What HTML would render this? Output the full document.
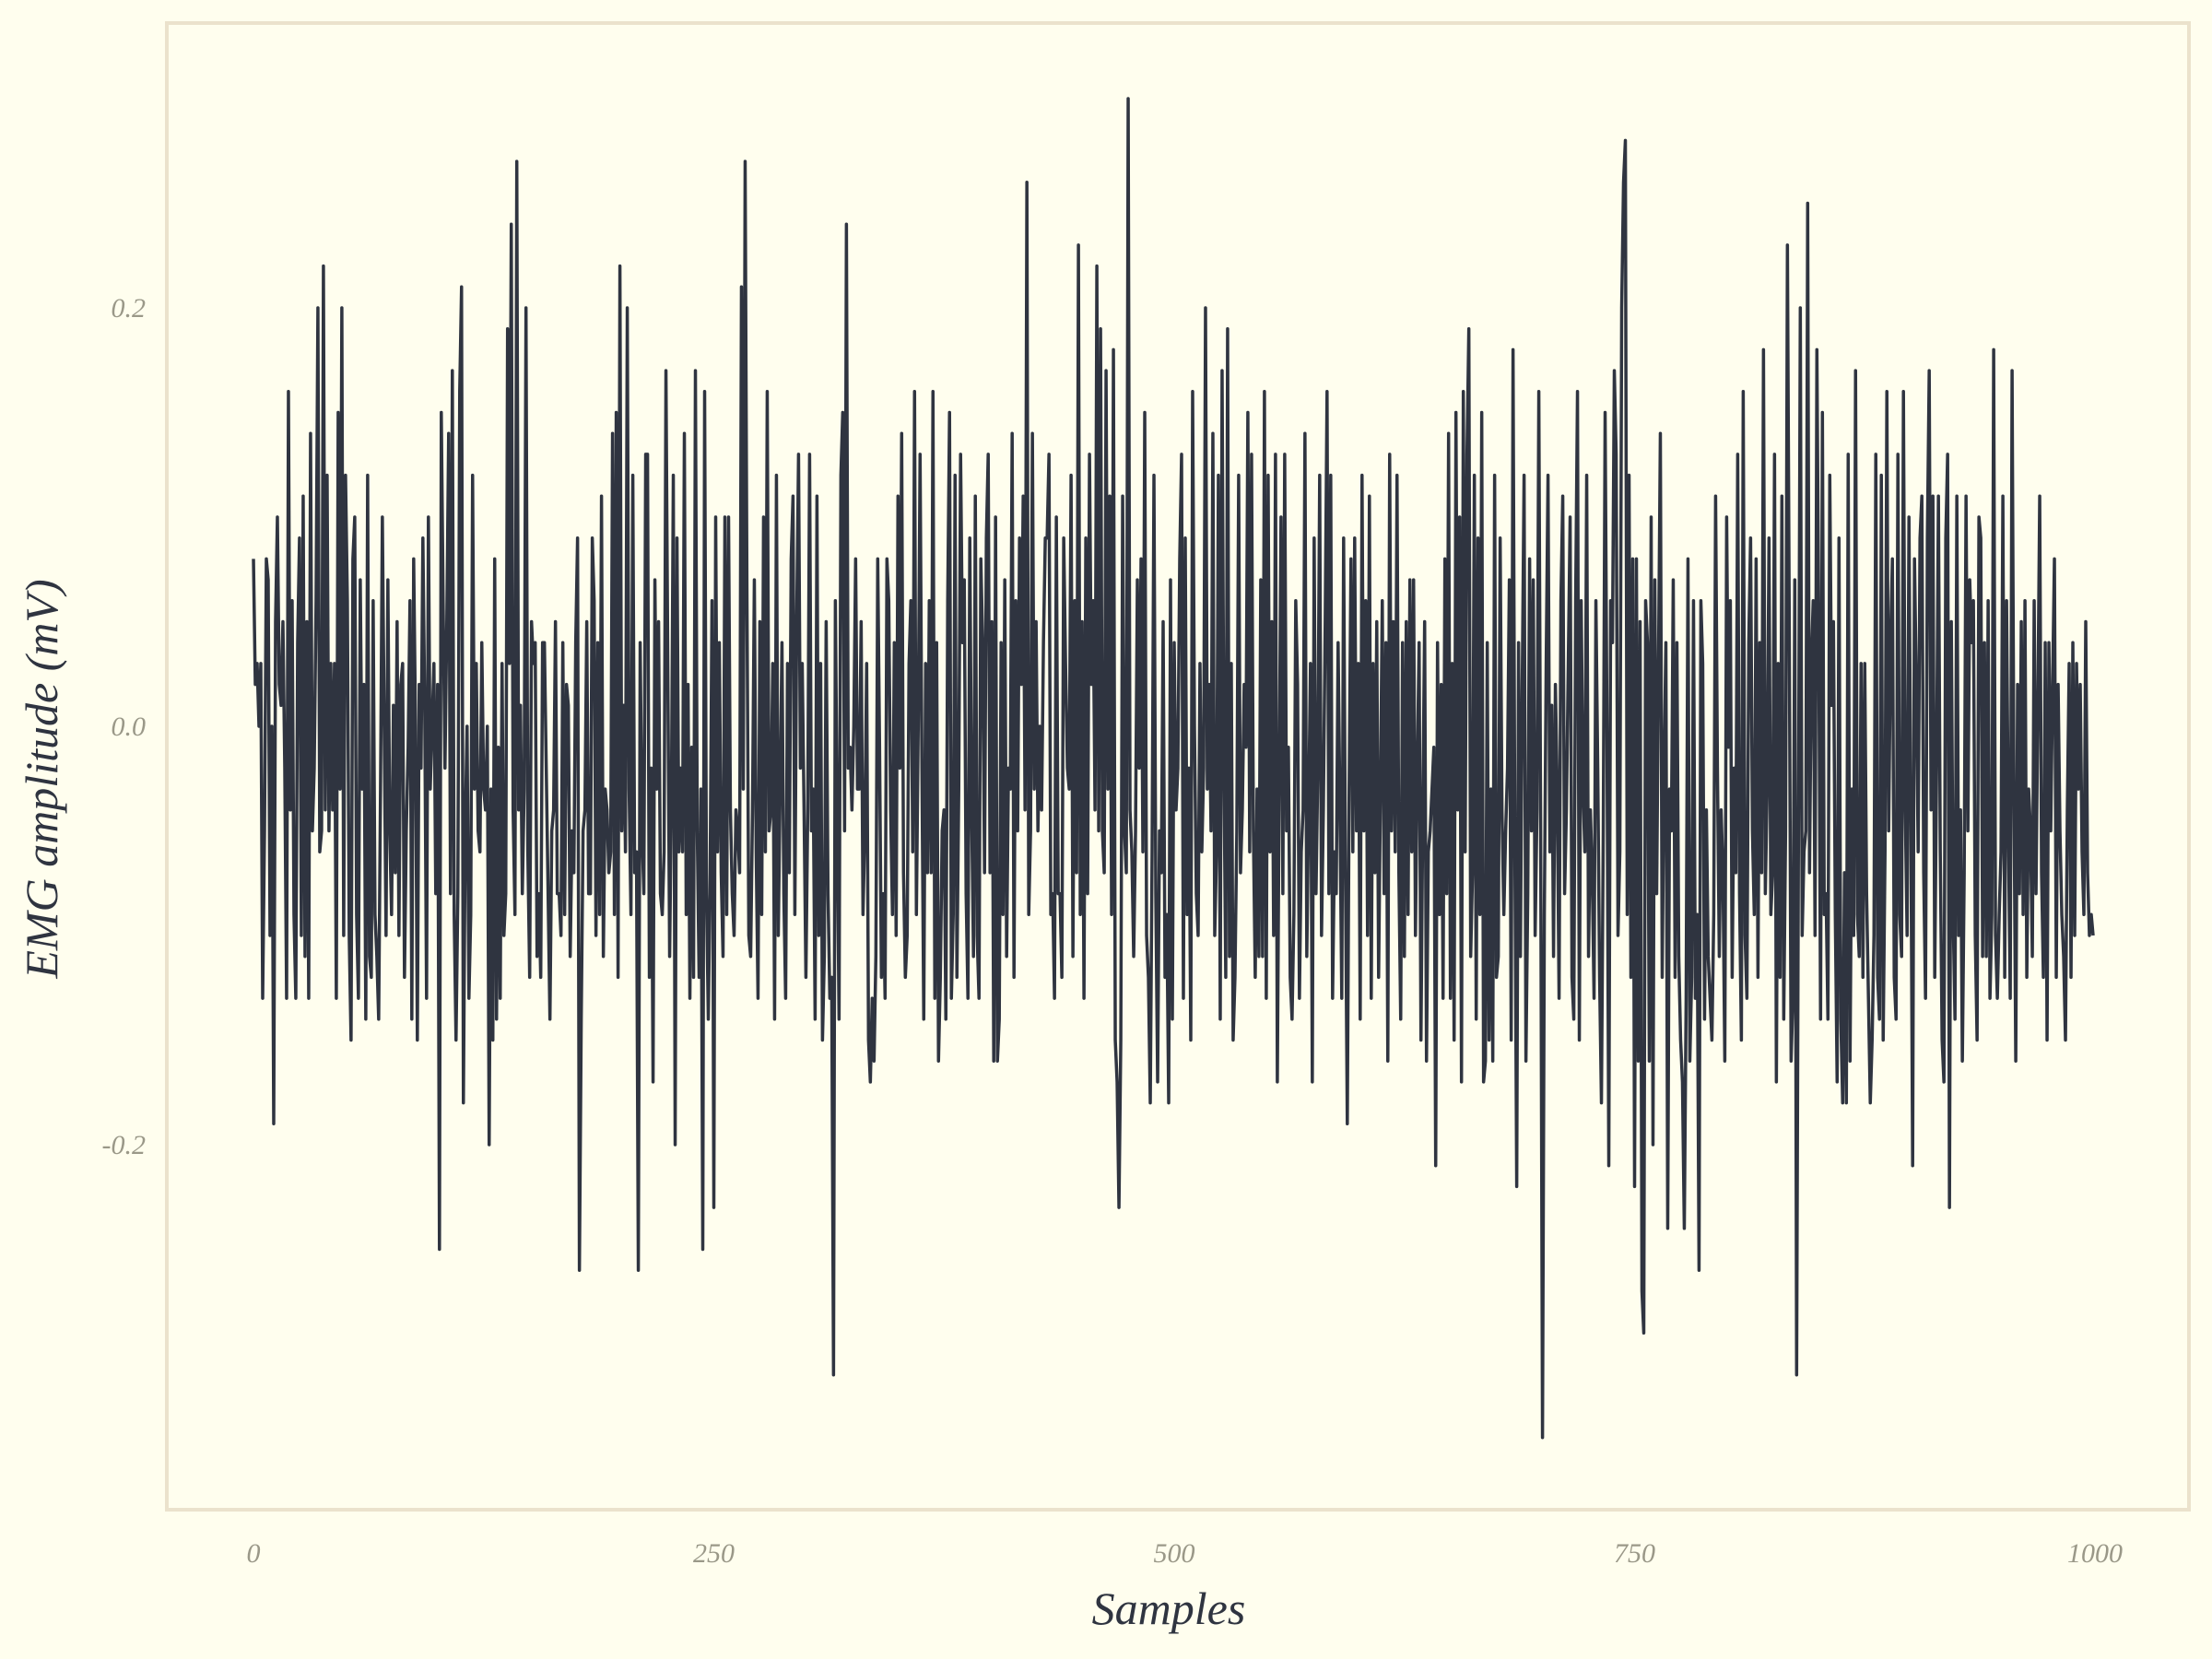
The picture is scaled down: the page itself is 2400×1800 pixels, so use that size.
<!DOCTYPE html>
<html><head><meta charset="utf-8">
<style>
html,body{margin:0;padding:0;background:#fffeee;}
svg{display:block;}
.tick{font-family:"Liberation Serif",serif;font-style:italic;font-size:30px;fill:#9a9888;}
.axlab{font-family:"Liberation Serif",serif;font-style:italic;font-size:50px;fill:#2f3440;}
</style></head>
<body>
<svg id="chart" width="2400" height="1800" viewBox="0 0 2400 1800" xmlns="http://www.w3.org/2000/svg">
<rect x="0" y="0" width="2400" height="1800" fill="#fffeee"/>
<rect x="181" y="25" width="2194" height="1613" fill="#fffeee" stroke="#ebe2cc" stroke-width="4"/>
<g id="xticks"></g>
<g id="yticks"></g>
<path id="line" fill="none" stroke="#2f3440" stroke-width="3.5" stroke-linejoin="round"/>
<text class="axlab" x="1268" y="1762" text-anchor="middle">Samples</text>
<text class="axlab" x="0" y="0" text-anchor="middle" transform="translate(62,845) rotate(-90)">EMG amplitude (mV)</text>
</svg>
<script>
const xTickValues=[0,250,500,750,1000];
const yTickValues=[-0.2,0.0,0.2];
const yTickLabels=["-0.2","0.0","0.2"];
const signalHundredths=[
8,2,3,0,3,-13,-5,8,7,-10,0,-19,5,10,2,1,5,-2,-13,16,-4,6,-9,-13,4,9,-10,11,-11,5,-13,14,-5,-2,6,20,-6,-5,22,-4,12,-5,3,-4,3,-13,15,-3,20,-10,
12,6,-10,-15,8,10,-9,-13,7,-3,2,-14,12,-11,-12,6,-9,-11,-14,-3,10,0,-10,7,-5,-9,1,-7,5,-10,2,3,-12,-5,-1,6,-14,8,0,-15,2,-2,9,1,-13,10,-3,0,3,-8,
2,-25,15,6,-2,5,14,-8,17,-9,-15,-8,16,21,-18,-5,0,-13,-9,12,-3,3,-5,-6,4,-3,-4,0,-20,-3,-15,8,-14,-1,-13,3,-10,-8,19,3,24,-4,-9,27,-4,1,-8,-3,20,-6,
-12,5,3,4,-11,-8,-12,4,4,-2,-8,-14,-5,-4,5,-8,-8,-10,4,-9,2,1,-11,-5,-7,4,9,-26,-14,-5,-4,5,-8,-8,9,6,-10,4,-9,11,-11,-3,-4,-7,-6,14,-9,15,-12,22,
-5,1,-6,20,-3,-9,12,-7,-6,-26,4,-5,-8,13,13,-12,-2,-17,7,-3,5,-8,-9,-6,17,3,-11,-3,12,-20,9,-6,-2,-6,14,-9,2,-13,-1,-12,17,-5,-12,-3,-25,16,-8,-14,-7,6,
-23,10,-6,4,-7,-11,10,-9,10,-4,-8,-10,-4,-5,-7,21,-3,27,6,-10,-11,-4,7,-6,-13,5,-9,10,-6,16,-5,-4,3,-14,12,-10,-3,4,-8,-13,3,-7,8,11,-9,5,13,-2,3,-4,
-12,-4,13,-5,-3,-14,11,-10,3,-15,-11,5,-8,-13,-12,-31,6,-5,-14,12,15,-5,24,-2,-1,-4,0,8,-3,-3,5,-9,-5,3,-15,-17,-13,-16,-11,8,-1,-12,-8,-13,8,6,-4,-9,4,-10,
11,-2,14,-7,-12,-10,3,6,-6,16,-9,0,13,-2,-14,3,-7,6,-7,16,-13,4,-16,-12,-5,-4,-14,6,15,-13,-9,12,-12,-3,13,4,7,-8,-13,9,-4,-11,11,-10,-13,8,4,-7,9,13,
-7,5,-16,10,-16,-14,4,-9,7,-11,-2,-3,14,-12,6,-5,9,2,11,-4,26,-9,-5,14,-3,5,-5,0,-4,4,9,9,13,-9,-8,-13,10,-8,-8,-12,9,3,-2,-3,12,-11,6,-7,23,-9,
5,-13,9,-8,13,2,6,-4,22,-5,19,-5,-7,17,-3,11,-9,18,-15,-17,-23,-15,11,-5,-7,30,-4,-6,-11,-5,7,-2,8,-6,15,-10,-12,-18,-6,12,-8,-17,-5,-7,5,-12,-9,-18,7,-14,
4,-4,-2,8,13,-13,9,-9,-2,-15,16,0,-8,-10,3,-6,-2,20,-3,2,-5,14,-10,-6,12,-14,17,-2,-12,19,-11,3,-15,-12,-5,12,-7,-4,2,-1,15,-6,13,-5,-12,-3,-11,7,-11,16,
-13,12,-6,5,-10,13,-17,-3,10,-8,13,-5,-1,-12,-14,-9,6,2,-13,-6,-4,14,-11,-4,3,-17,9,-8,-2,12,-10,-4,5,16,-8,12,-13,-6,-8,4,-4,-13,9,-7,-19,-3,8,-6,9,-5,
3,-14,12,-5,6,-10,11,-13,3,-7,5,-12,-3,6,-8,4,-16,13,-5,5,-6,12,-7,-14,4,-11,5,-9,7,-6,7,-10,-2,4,-15,-4,5,-16,-6,-5,-3,-1,-21,4,-9,2,-13,8,-8,14,
-13,3,-15,15,-4,10,-17,16,-6,13,19,-11,-7,12,-14,9,-9,15,-17,-16,4,-15,-3,-16,12,-12,-11,9,-4,-9,-5,-2,7,-15,18,-6,-22,4,-11,2,12,-16,-8,8,-5,7,-10,-4,16,-5,
-34,-9,3,12,-6,1,-11,2,-3,-13,6,11,-8,-4,3,10,-12,-14,6,16,-15,6,-3,-6,12,-11,-4,-7,-13,6,-2,-12,-18,-5,15,0,-21,6,4,17,13,-10,-6,20,26,28,-9,12,-12,8,
-22,8,-16,5,-27,-29,6,4,-16,10,-20,7,-8,3,14,-12,-2,4,-24,-3,-5,7,-12,4,-11,-15,-17,-24,-13,8,-16,-12,6,-13,-9,-26,6,3,-14,-4,-11,-13,-15,-9,11,-2,-11,-4,-7,-16,
10,-1,6,-12,-2,-7,13,-8,-15,16,-10,-13,4,9,-5,-9,8,-12,4,-7,18,-8,-3,9,-9,-7,13,-17,3,-12,11,-14,-5,23,5,-16,-13,7,-31,-5,20,-10,-6,-5,25,-7,3,6,-10,18,
5,-14,15,-9,-8,-14,12,1,5,-9,-17,9,-14,-18,-7,-18,13,-16,-3,-10,17,-9,-11,3,-12,3,-8,-13,-18,-15,-10,13,-12,-14,12,-15,-6,16,-5,4,8,-12,-14,13,-9,-11,16,-4,-10,10,
-4,-21,8,2,-6,9,11,-7,-13,9,17,-4,11,-12,-2,11,-6,-15,-17,9,13,-23,5,-9,-14,11,-10,-4,-16,-7,11,-5,7,4,6,-10,-15,10,9,-11,4,-11,6,-13,-9,18,-10,-13,-9,-6,
11,-12,6,-5,-13,17,-3,-16,2,-8,5,-9,6,-12,-3,-5,-11,6,-8,1,11,-7,-12,4,-15,4,-5,2,8,-12,2,-5,-9,-11,-15,-4,3,-12,4,-10,3,-3,2,-6,-9,5,-7,-10,-9,-10
];
const xs=v=>275+(v/1000)*(2273-275);
const ys=v=>788-(v/0.2)*(788-334);
const NS="http://www.w3.org/2000/svg";
const xg=document.getElementById('xticks');
xTickValues.forEach(v=>{
  const t=document.createElementNS(NS,'text');
  
  
  t.setAttribute('class','tick');
  t.setAttribute('x',xs(v));t.setAttribute('y',1695);
  t.setAttribute('text-anchor','middle');
  t.textContent=String(v);xg.appendChild(t);
});
const yg=document.getElementById('yticks');
yTickValues.forEach((v,i)=>{
  const t=document.createElementNS(NS,'text');
  
  
  t.setAttribute('class','tick');
  t.setAttribute('x',158);t.setAttribute('y',ys(v)+10);
  t.setAttribute('text-anchor','end');
  t.textContent=yTickLabels[i];yg.appendChild(t);
});
let d='';
signalHundredths.forEach((v,i)=>{d+=(i?'L':'M')+xs(i).toFixed(2)+','+ys(v/100).toFixed(2);});
document.getElementById('line').setAttribute('d',d);
</script>
</body></html>
